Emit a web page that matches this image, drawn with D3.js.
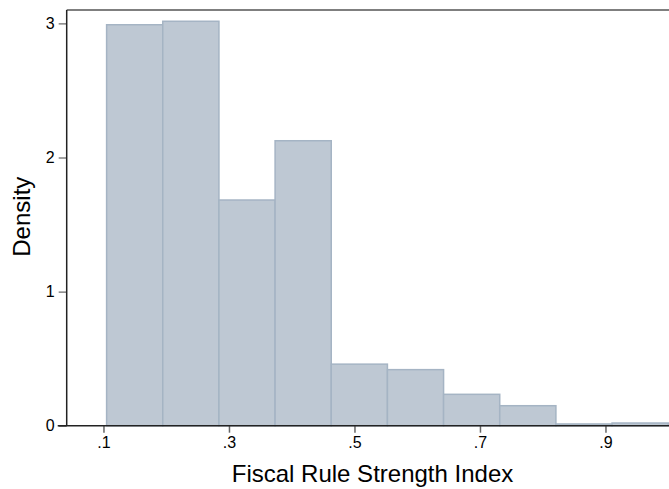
<!DOCTYPE html>
<html>
<head>
<meta charset="utf-8">
<script src="https://cdn.jsdelivr.net/npm/d3@7"></script>
<style>
  body { margin: 0; background: #fff; }
  text { font-family: "Liberation Sans", Arial, sans-serif; fill: #000; }
</style>
</head>
<body>
<svg id="chart" width="669" height="489"></svg>
<script>
// histogram bins (lower edges) and density of each bin
const binEdges = [0.105, 0.1945, 0.284, 0.3735, 0.463, 0.5525, 0.642, 0.7315, 0.821, 0.9105, 1.0];
const density = [2.99, 3.016, 1.683, 2.125, 0.459, 0.418, 0.234, 0.149, 0.013, 0.02];
const xTicks = [0.1, 0.3, 0.5, 0.7, 0.9];
const xTickLabels = [".1", ".3", ".5", ".7", ".9"];
const yTicks = [0, 1, 2, 3];

const bins = density.map((d, i) => ({x0: binEdges[i], x1: binEdges[i + 1], y: d}));

const margin = {top: 10, left: 66.7, bottom: 425.7};
const pxPerUnit = 627.5;
const xDomain = [0.0414, 1.02];

const x = d3.scaleLinear(xDomain, [margin.left, margin.left + (xDomain[1] - xDomain[0]) * pxPerUnit]);
const y = d3.scaleLinear([0, 3.1], [margin.bottom, margin.top]);

const svg = d3.select("#chart");

// bars
svg.append("g")
  .selectAll("rect")
  .data(bins)
  .join("rect")
    .attr("x", d => x(d.x0))
    .attr("y", d => y(d.y))
    .attr("width", d => x(d.x1) - x(d.x0))
    .attr("height", d => y(0) - y(d.y))
    .attr("fill", "#bec8d3")
    .attr("stroke", "#a5b4c4")
    .attr("stroke-width", 1.5);

// top frame
svg.append("line")
  .attr("x1", x.range()[0]).attr("x2", x.range()[1])
  .attr("y1", margin.top).attr("y2", margin.top)
  .attr("stroke", "#555").attr("stroke-width", 1.5);

// y axis
const yAxis = d3.axisLeft(y).tickValues(yTicks).tickFormat(d3.format("d")).tickSize(8).tickPadding(4);
svg.append("g")
  .attr("transform", `translate(${margin.left},0)`)
  .call(yAxis)
  .call(g => g.select(".domain").remove())
  .call(g => g.selectAll(".tick line").attr("stroke", "#444"))
  .call(g => g.selectAll(".tick text").attr("font-size", 16).attr("font-family", "Liberation Sans, Arial, sans-serif"));

svg.append("line")
  .attr("x1", margin.left).attr("x2", margin.left)
  .attr("y1", margin.top).attr("y2", margin.bottom)
  .attr("stroke", "#222").attr("stroke-width", 1.5);

// x axis
const xAxis = d3.axisBottom(x).tickValues(xTicks).tickFormat((d, i) => xTickLabels[i]).tickSize(7).tickPadding(4);
svg.append("g")
  .attr("transform", `translate(0,${margin.bottom})`)
  .call(xAxis)
  .call(g => g.select(".domain").remove())
  .call(g => g.selectAll(".tick line").attr("stroke", "#666").attr("stroke-width", 1.5))
  .call(g => g.selectAll(".tick text").attr("font-size", 16).attr("font-family", "Liberation Sans, Arial, sans-serif"));

svg.append("line")
  .attr("x1", margin.left - 9).attr("x2", x.range()[1])
  .attr("y1", margin.bottom).attr("y2", margin.bottom)
  .attr("stroke", "#222").attr("stroke-width", 1.5);

// axis titles
svg.append("text")
  .attr("x", 372.5).attr("y", 481.7)
  .attr("text-anchor", "middle")
  .attr("font-size", 24)
  .text("Fiscal Rule Strength Index");

svg.append("text")
  .attr("transform", "translate(30.3,216.7) rotate(-90)")
  .attr("text-anchor", "middle")
  .attr("font-size", 24)
  .text("Density");
</script>
</body>
</html>
